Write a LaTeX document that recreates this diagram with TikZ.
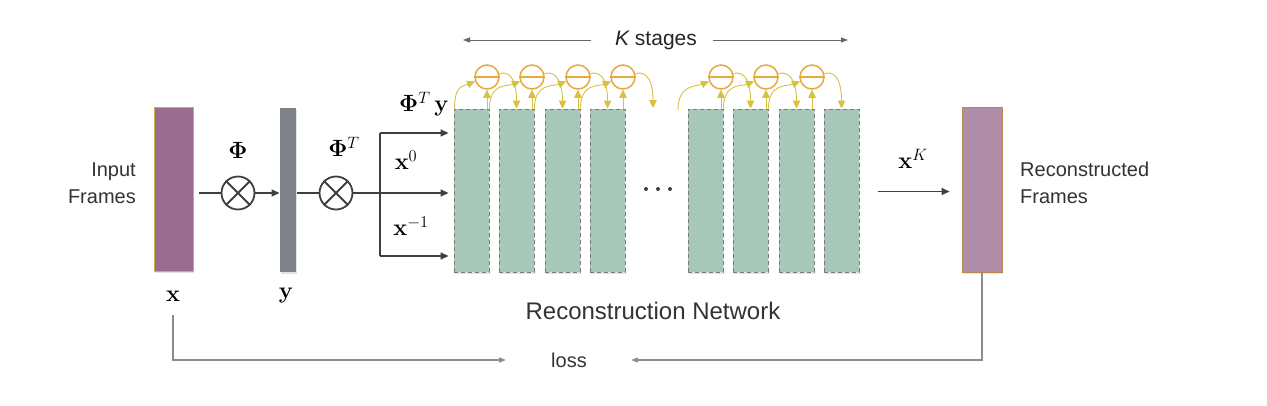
\RequirePackage{fix-cm}
\documentclass[tikz,border=0pt]{standalone}
\usepackage{amsmath}
\usepackage[no-math]{fontspec}
\newfontfamily\arial{Liberation Sans}
\usetikzlibrary{arrows.meta,shadows}
\definecolor{inpurple}{HTML}{9A6D8F}
\definecolor{inborder}{HTML}{C9B24A}
\definecolor{ygray}{HTML}{7F8387}
\definecolor{stagegreen}{HTML}{A7C8B8}
\definecolor{stageborder}{HTML}{7A7A7A}
\definecolor{outpurple}{HTML}{AF8DA9}
\definecolor{outborder}{HTML}{B88850}
\definecolor{minusorange}{HTML}{E9A93A}
\definecolor{arrowyellow}{HTML}{D6C23E}
\definecolor{darkline}{HTML}{3F3F3F}
\definecolor{lossgray}{HTML}{8C8C8C}
\definecolor{textgray}{HTML}{333333}
\begin{document}
\begin{tikzpicture}[x=1pt,y=-1pt,
  barshadow/.style={drop shadow={shadow xshift=1pt,shadow yshift=-2pt,opacity=0.22}},
  framebar/.style={rectangle,inner sep=0pt,line width=1pt,barshadow},
  stagebox/.style={rectangle,inner sep=0pt,minimum width=35pt,minimum height=163pt,
    fill=stagegreen,draw=stageborder,line width=0.9pt,dash pattern=on 4pt off 3pt,barshadow},
  otimesnode/.style={circle,inner sep=0pt,minimum size=33pt,draw=darkline,line width=1.8pt},
  minusnode/.style={circle,inner sep=0pt,minimum size=24pt,draw=minusorange,line width=1.5pt},
  dotnode/.style={circle,inner sep=0pt,minimum size=4pt,fill=darkline},
  dline/.style={darkline,line width=1.5pt},
  darrow/.style={darkline,line width=1.5pt,-{Triangle[length=8pt,width=7pt]}},
  yarrow/.style={arrowyellow,line width=0.9pt,-{Triangle[length=8pt,width=7.5pt]}},
  larrow/.style={lossgray,line width=1.5pt,-{Triangle[length=7pt,width=5pt]}},
  karrow/.style={black!60,line width=0.9pt,-{Triangle[length=7pt,width=5pt]}},
  mathlabel/.style={inner sep=0pt,font=\fontsize{23.5}{27}\selectfont},
  sanslabel/.style={inner sep=0pt,text=textgray,font=\arial\fontsize{20}{26.5}\selectfont}
]
\fill[white] (0,0) rectangle (1267,405);
\useasboundingbox (0,0) rectangle (1267,405);

% input frames
\node[framebar,minimum width=39pt,minimum height=164pt,fill=inpurple,draw=inborder] (xin) at (173.5,189) {};
\node[sanslabel,anchor=east,align=right] (inlab) at (136,183) {Input\\Frames};
\node[mathlabel] (xlab) at (173,296) {$\mathbf{x}$};

% measurement
\node[otimesnode] (m1) at (238,193) {};
\draw[darkline,line width=1.8pt] (m1.45) -- (m1.225) (m1.135) -- (m1.315);
\node[mathlabel] (philab) at (238,150) {$\mathbf{\Phi}$};
\node[framebar,minimum width=16pt,minimum height=164pt,fill=ygray] (ybar) at (288,189.5) {};
\node[mathlabel] (ylab) at (286,296) {$\mathbf{y}$};
\node[otimesnode] (m2) at (336,193) {};
\draw[darkline,line width=1.8pt] (m2.45) -- (m2.225) (m2.135) -- (m2.315);
\node[mathlabel] (phitlab) at (344,147) {$\mathbf{\Phi}^{T}$};

\draw[dline] (m1.west -| xin.east) ++(5,0) -- (m1.west);
\draw[darrow] (m1.east) -- (m1.east -| ybar.west);
\draw[dline] (m2.west -| ybar.east) -- (m2.west);

% stages
\foreach \i/\l in {1/454,2/499,3/545,4/590,5/688,6/733,7/779,8/824}{
  \node[stagebox] (b\i) at (\l+17.5,190.5) {};
}
\foreach \i/\l in {1/454,2/499,3/545,4/590,5/688,6/733,7/779}{
  \node[minusnode] (c\i) at (\l+33,77) {};
  \draw[minusorange,line width=1.5pt] (c\i.west) -- (c\i.east);
  \draw[yarrow] (c\i.south |- b\i.north) -- (c\i.south);
}
\node[dotnode] (d1) at (646,189) {};
\node[dotnode] (d2) at (658,189) {};
\node[dotnode] (d3) at (670,189) {};

% branch into the network
\coordinate (br) at (380,193);
\coordinate (brt) at (380,133);
\coordinate (brb) at (380,256);
\draw[dline] (m2.east) -- (br);
\draw[dline] (brt) -- (brb);
\draw[darrow,shorten >=5pt] (brt) -- (brt -| b1.west);
\draw[darrow,shorten >=5pt] (br) -- (br -| b1.west);
\draw[darrow,shorten >=5pt] (brb) -- (brb -| b1.west);
\node[mathlabel] (ptylab) at (424,104) {$\mathbf{\Phi}^{T}\,\mathbf{y}$};
\node[mathlabel] (x0lab) at (406,160) {$\mathbf{x}^{0}$};
\node[mathlabel] (xm1lab) at (411,226) {$\mathbf{x}^{-1}$};

% recurrent yellow connections
\coordinate (c4end) at (653,108);
\coordinate (c5start) at (678,110);
\draw[yarrow] (b1.north west) ++(1,0) .. controls +(0,-24) and +(-12,5) .. (c1.200);
\foreach \a/\b in {1/2,2/3,3/4,5/6,6/7}{
  \draw[yarrow] (b\a.north east) .. controls +(0,-26) and +(-12,5) .. (c\b.200);
}
\foreach \a/\b in {1/2,2/3,3/4,5/6,6/7,7/8}{
  \draw[yarrow] (c\a.15) .. controls +(14,-4) and +(0,-22) .. ([xshift=18pt]b\b.north west);
}
\draw[yarrow] (c4.15) .. controls +(14,-4) and +(0,-22) .. (c4end);
\draw[yarrow] (c5start) .. controls +(0,-26) and +(-12,5) .. (c5.200);

% K stages
\node[inner sep=0pt,text=black!85,font=\arial\fontsize{21}{25}\selectfont] (ks) at (656,40) {{\itshape K} stages};
\coordinate (kl) at (463,41);
\coordinate (kr) at (848,41);
\draw[karrow] ([xshift=-24pt]ks.west) -- (kl |- ks.west);
\draw[karrow] ([xshift=16pt]ks.east) -- (kr |- ks.east);

% output
\node[framebar,minimum width=40pt,minimum height=165pt,fill=outpurple,draw=outborder] (xout) at (982,189.5) {};
\draw[darrow,shorten >=12pt] (xout.west -| b8.east) ++(19,2) -- ([yshift=-2pt]xout.west);
\node[mathlabel] (xklab) at (913,159) {$\mathbf{x}^{K}$};
\node[sanslabel,anchor=west,align=left] (outlab) at (1020,183) {Reconstructed\\Frames};

\node[inner sep=0pt,text=textgray,font=\arial\fontsize{24}{28}\selectfont] (rn) at (653,311) {Reconstruction Network};

% loss
\node[sanslabel] (loss) at (569,360) {loss};
\draw[larrow,shorten <=14pt,shorten >=45pt] (xlab.south) |- (loss.west);
\draw[larrow,shorten >=44pt] (xout.south) |- (loss.east);
\end{tikzpicture}
\end{document}
